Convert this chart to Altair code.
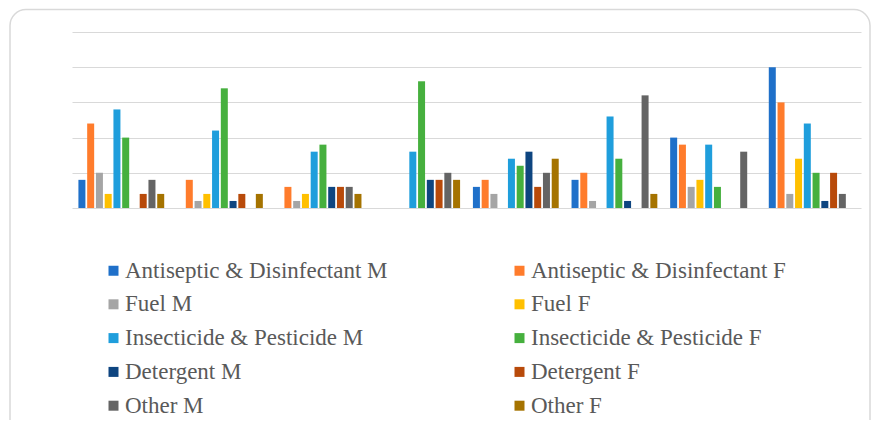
import altair as alt
import pandas as pd

groups = ["G1", "G2", "G3", "G4", "G5", "G6", "G7", "G8"]

series = [
    "Antiseptic & Disinfectant M", "Antiseptic & Disinfectant F",
    "Fuel M", "Fuel F",
    "Insecticide & Pesticide M", "Insecticide & Pesticide F",
    "Detergent M", "Detergent F",
    "Other M", "Other F",
]

colors = ["#1F70C9", "#FF7C2C", "#A5A5A5", "#FFC000", "#1F9EDC",
          "#46B03E", "#0E4580", "#B84A0A", "#646464", "#A57300"]

antiseptic_m = [4, 0, 0, 0, 3, 4, 10, 20]
antiseptic_f = [12, 4, 3, 0, 4, 5, 9, 15]
fuel_m = [5, 1, 1, 0, 2, 1, 3, 2]
fuel_f = [2, 2, 2, 0, 0, 0, 4, 7]
insecticide_m = [14, 11, 8, 8, 7, 13, 9, 12]
insecticide_f = [10, 17, 9, 18, 6, 7, 3, 5]
detergent_m = [0, 1, 3, 4, 8, 1, 0, 1]
detergent_f = [2, 2, 3, 4, 3, 0, 0, 5]
other_m = [4, 0, 3, 5, 5, 16, 8, 2]
other_f = [2, 2, 2, 4, 7, 2, 0, 0]

series_values = [antiseptic_m, antiseptic_f, fuel_m, fuel_f, insecticide_m,
                 insecticide_f, detergent_m, detergent_f, other_m, other_f]

rows = []
for s, vals in zip(series, series_values):
    for g, v in zip(groups, vals):
        rows.append({"group": g, "series": s, "value": v})
df = pd.DataFrame(rows)

serif = "'Liberation Serif', 'Times New Roman', 'DejaVu Serif', serif"

bars = alt.Chart(df).mark_bar().encode(
    x=alt.X("group:N", sort=groups, axis=None,
            scale=alt.Scale(paddingInner=0.13, paddingOuter=0.065)),
    xOffset=alt.XOffset("series:N", sort=series,
                        scale=alt.Scale(domain=series, paddingInner=0.2, paddingOuter=0)),
    y=alt.Y("value:Q", scale=alt.Scale(domain=[0, 25]),
            axis=alt.Axis(values=[0, 5, 10, 15, 20, 25], labels=False, ticks=False,
                          domain=False, grid=True, gridColor="#d9d9d9",
                          gridWidth=1.2, title=None)),
    color=alt.Color("series:N", sort=series,
                    scale=alt.Scale(domain=series, range=colors),
                    legend=alt.Legend(
                        title=None, orient="none", legendX=30, legendY=227,
                        direction="horizontal",
                        columns=2, columnPadding=120, rowPadding=9.8,
                        gridAlign="each", symbolType="square", symbolSize=100,
                        symbolStrokeWidth=0, labelFont=serif,
                        labelFontSize=23, labelColor="#595959", labelOffset=0,
                        labelLimit=400, padding=0)),
)

frame = alt.Chart(pd.DataFrame({"a": [0]})).mark_rect(
    fillOpacity=0, stroke="#d9d9d9", strokeWidth=1.5, cornerRadius=16
).encode(
    x=alt.value(-62), x2=alt.value(798), y=alt.value(-22.5), y2=alt.value(420)
)

chart = alt.layer(frame, bars).properties(
    width=789, height=176,
    autosize=alt.AutoSizeParams(type="none"),
    padding={"left": 64, "top": 24, "right": 11, "bottom": 212},
).configure_view(stroke=None)

chart.save("out.html", embed_options={"renderer": "svg", "actions": False})
